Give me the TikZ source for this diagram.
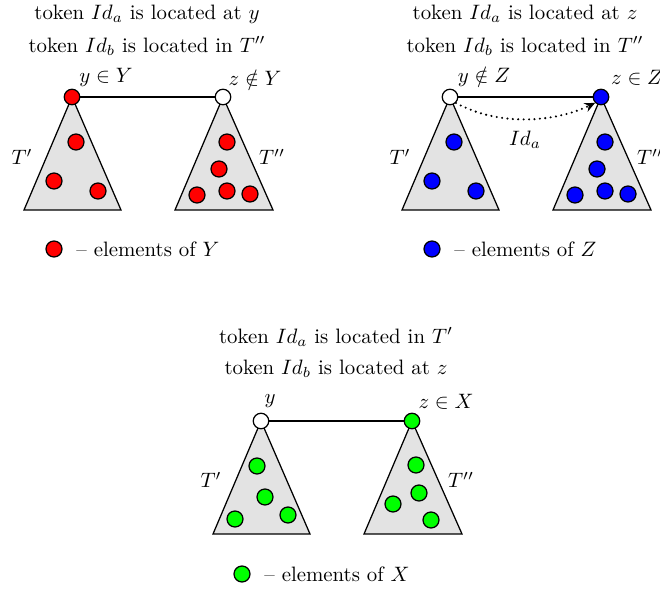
\documentclass[tikz,border=0pt]{standalone}
\usetikzlibrary{arrows.meta}
\begin{document}
\begin{tikzpicture}[x=0.48pt,y=-0.48pt,
  tri/.style={draw=black,fill=black!11,line width=0.6pt,line join=miter},
  root/.style={circle,draw=black,line width=0.6pt,minimum size=15.5*0.48pt,inner sep=0pt},
  dotr/.style={circle,draw=black,line width=0.6pt,fill=red,minimum size=16*0.48pt,inner sep=0pt},
  dotb/.style={circle,draw=black,line width=0.6pt,fill=blue,minimum size=16*0.48pt,inner sep=0pt},
  dotg/.style={circle,draw=black,line width=0.6pt,fill=green,minimum size=16*0.48pt,inner sep=0pt},
  edge/.style={line width=0.9pt},
  lbl/.style={inner sep=0pt}]
\clip (0,0) rectangle (660,589);
\useasboundingbox (0,0) rectangle (660,589);
% ---------- Panel 1 ----------
\node[lbl] (t1a) at (147,14) {token $Id_a$ is located at $y$};
\node[lbl] (t1b) at (147,46) {token $Id_b$ is located in $T''$};
\draw[tri] (72,97) -- (24,210) -- (121,210) -- cycle;
\draw[tri] (223,97) -- (175,210) -- (273,210) -- cycle;
\node[root,fill=red] (y1) at (72,97) {};
\node[root,fill=white] (z1) at (223,97) {};
\draw[edge] (y1) -- (z1);
\node[lbl] (ly1) at (106,77) {$y\in Y$};
\node[lbl] (lz1) at (255,78) {$z\notin Y$};
\node[lbl] (tp1) at (22,157) {$T'$};
\node[lbl] (tpp1) at (272,157) {$T''$};
\node[dotr] (a1) at (76,142) {};
\node[dotr] (a2) at (54,181) {};
\node[dotr] (a3) at (98,191) {};
\node[dotr] (b1) at (227,142) {};
\node[dotr] (b2) at (219,169) {};
\node[dotr] (b3) at (197,195) {};
\node[dotr] (b4) at (227,191) {};
\node[dotr] (b5) at (250,194) {};
\node[dotr] (lg1) at (54,249) {};
\node[lbl,anchor=west] (lt1) at (76,249) {-- elements of $Y$};
% ---------- Panel 2 ----------
\node[lbl] (t2a) at (525,14) {token $Id_a$ is located at $z$};
\node[lbl] (t2b) at (525,46) {token $Id_b$ is located in $T''$};
\draw[tri] (450,97) -- (402,210) -- (499,210) -- cycle;
\draw[tri] (601,97) -- (553,210) -- (651,210) -- cycle;
\node[root,fill=white] (y2) at (450,97) {};
\node[root,fill=blue] (z2) at (601,97) {};
\draw[edge] (y2) -- (z2);
\draw[line width=1.1pt,line cap=round,dash pattern=on 0pt off 2.6pt,-{Stealth[length=5pt,width=4.5pt]}] (y2.south east) .. controls (500,127) and (555,122) .. (z2.south west);
\node[lbl] (ida) at (525,140) {$Id_a$};
\node[lbl] (ly2) at (484,77) {$y\notin Z$};
\node[lbl] (lz2) at (637,78) {$z\in Z$};
\node[lbl] (tp2) at (400,157) {$T'$};
\node[lbl] (tpp2) at (650,157) {$T''$};
\node[dotb] (c1) at (454,142) {};
\node[dotb] (c2) at (432,181) {};
\node[dotb] (c3) at (476,191) {};
\node[dotb] (d1) at (605,142) {};
\node[dotb] (d2) at (597,169) {};
\node[dotb] (d3) at (575,195) {};
\node[dotb] (d4) at (605,191) {};
\node[dotb] (d5) at (628,194) {};
\node[dotb] (lg2) at (432,249) {};
\node[lbl,anchor=west] (lt2) at (454,249) {-- elements of $Z$};
% ---------- Panel 3 ----------
\node[lbl] (t3a) at (336,337) {token $Id_a$ is located in $T'$};
\node[lbl] (t3b) at (336,369) {token $Id_b$ is located at $z$};
\draw[tri] (261,421) -- (213,534) -- (310,534) -- cycle;
\draw[tri] (412,421) -- (364,534) -- (462,534) -- cycle;
\node[root,fill=white] (y3) at (261,421) {};
\node[root,fill=green] (z3) at (412,421) {};
\draw[edge] (y3) -- (z3);
\node[lbl] (ly3) at (270,401) {$y$};
\node[lbl] (lz3) at (446,402) {$z\in X$};
\node[lbl] (tp3) at (211,480) {$T'$};
\node[lbl] (tpp3) at (461,480) {$T''$};
\node[dotg] (e1) at (257,466) {};
\node[dotg] (e2) at (265,497) {};
\node[dotg] (e3) at (235,519) {};
\node[dotg] (e4) at (288,515) {};
\node[dotg] (f1) at (416,465) {};
\node[dotg] (f2) at (419,493) {};
\node[dotg] (f3) at (393,504) {};
\node[dotg] (f4) at (431,520) {};
\node[dotg] (lg3) at (242,574) {};
\node[lbl,anchor=west] (lt3) at (264,574) {-- elements of $X$};
\end{tikzpicture}
\end{document}
